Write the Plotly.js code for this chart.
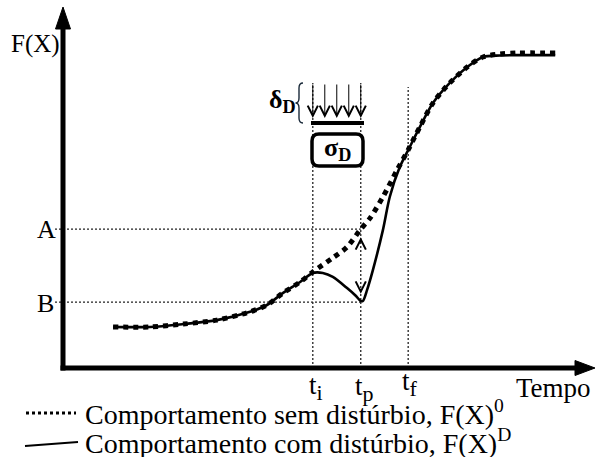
<!DOCTYPE html>
<html>
<head>
<meta charset="utf-8">
<script src="https://cdn.plot.ly/plotly-3.0.1.min.js"></script>
<style>html,body{margin:0;padding:0;background:#fff;}#chart{width:597px;height:457px;}</style>
</head>
<body>
<div id="chart"></div>
<script>
// ---- data (time 0..100, F(X) 0..100) ----
const timeF0 = [9.5, 16.5, 22.8, 29.2, 35.5, 38.7, 41.7, 45.0, 47.4, 51.2, 53.9, 56.5, 58.3, 60.7, 63.4, 65.5, 67.7, 70.2, 73.4, 76.7, 79.7, 82.9, 86.1, 93.4];
const F0     = [11.4, 11.4, 12.2, 13.3, 15.6, 17.5, 20.8, 23.9, 26.7, 30.6, 33.6, 38.6, 41.7, 47.5, 55.0, 60.6, 66.9, 73.6, 79.2, 83.6, 86.4, 87.2, 87.5, 87.5];
const timeFD = [9.5, 16.5, 22.8, 29.2, 35.5, 38.7, 41.7, 45.0, 47.4, 49.3, 51.2, 53.9, 55.6, 56.5, 56.9, 57.7, 58.8, 60.7, 62.0, 63.9, 65.8, 67.7, 70.2, 73.4, 76.7, 79.7, 82.9, 86.1, 93.4];
const FD     = [11.4, 11.4, 12.2, 13.3, 15.6, 17.5, 20.8, 23.9, 26.4, 26.4, 25.3, 22.2, 20.0, 18.6, 18.6, 21.7, 27.2, 38.3, 47.5, 55.8, 61.4, 66.9, 73.6, 79.2, 83.6, 86.4, 86.8, 86.9, 86.9];
const timeMarks = {ti: 47.4, tp: 56.5, tf: 65.5};
const tickNames = ['t<sub><span style="font-size:22px">i</span></sub>', 't<sub><span style="font-size:22px">p</span></sub>', 't<sub><span style="font-size:22px">f</span></sub>'];
const levelA = 38.6;
const levelB = 18.3;
const levelNames = ['A', 'B'];
const yLabel = 'F(X)';
const xLabel = 'Tempo';
const legendTexts = ['Comportamento sem distúrbio, F(X)<sup>0</sup>', 'Comportamento com distúrbio, F(X)<sup>D</sup>'];

// ---- layout helpers (pixel -> paper) ----
const W = 597, H = 457, L = 63, R = 590, T = 8, B = 368;
const px = v => (v - L) / (R - L);
const py = v => (B - v) / (B - T);
const dy = v => (B - v) / (B - T) * 100;   // pixel row -> y data
const P = (x, y) => px(x) + ',' + py(y);
const FONT = 'Liberation Serif';

const traces = [
  {x: timeFD, y: FD, mode: 'lines', line: {color: '#000', width: 2.6, shape: 'spline', smoothing: 0.8}, hoverinfo: 'skip'},
  {x: timeF0, y: F0, mode: 'lines', line: {color: '#000', width: 5, dash: '5px,5px', shape: 'spline', smoothing: 0.8}, hoverinfo: 'skip'}
];

const guide = {color: '#222', width: 1.3, dash: '2px,2px'};
const shapes = [
  // guide lines
  {type: 'line', xref: 'x', yref: 'y', x0: timeMarks.ti, x1: timeMarks.ti, y0: 0, y1: dy(83), line: guide, layer: 'below'},
  {type: 'line', xref: 'x', yref: 'y', x0: timeMarks.tp, x1: timeMarks.tp, y0: 0, y1: dy(83), line: guide, layer: 'below'},
  {type: 'line', xref: 'x', yref: 'y', x0: timeMarks.tf, x1: timeMarks.tf, y0: 0, y1: dy(87), line: guide, layer: 'below'},
  {type: 'line', xref: 'paper', yref: 'y', x0: px(55), x1: timeMarks.tp / 100, y0: levelA, y1: levelA, line: guide, layer: 'below'},
  {type: 'line', xref: 'paper', yref: 'y', x0: px(55), x1: timeMarks.tp / 100, y0: levelB, y1: levelB, line: guide, layer: 'below'},
  // axes
  {type: 'line', xref: 'paper', yref: 'paper', x0: px(63), x1: px(63), y0: py(370.5), y1: py(26), line: {color: '#000', width: 5}},
  {type: 'path', xref: 'paper', yref: 'paper', path: 'M' + P(55.5, 29) + 'L' + P(70.5, 29) + 'L' + P(63, 7) + 'Z', fillcolor: '#000', line: {color: '#000', width: 1}},
  {type: 'line', xref: 'paper', yref: 'paper', x0: px(60.5), x1: px(578), y0: py(368), y1: py(368), line: {color: '#000', width: 5}},
  {type: 'path', xref: 'paper', yref: 'paper', path: 'M' + P(575, 360.5) + 'L' + P(575, 375.5) + 'L' + P(595, 368) + 'Z', fillcolor: '#000', line: {color: '#000', width: 1}},
  // disturbance bar
  {type: 'line', xref: 'paper', yref: 'paper', x0: px(311), x1: px(364), y0: py(123), y1: py(123), line: {color: '#000', width: 4}},
  // sigma box (rounded)
  {type: 'path', xref: 'paper', yref: 'paper',
    path: 'M' + P(319, 134) + 'L' + P(356, 134) + 'Q' + P(363, 134) + ' ' + P(363, 141) + 'L' + P(363, 159) + 'Q' + P(363, 166) + ' ' + P(356, 166) +
          'L' + P(319, 166) + 'Q' + P(312, 166) + ' ' + P(312, 159) + 'L' + P(312, 141) + 'Q' + P(312, 134) + ' ' + P(319, 134) + 'Z',
    fillcolor: '#fff', line: {color: '#000', width: 3.5}},
  // brace
  {type: 'path', xref: 'paper', yref: 'paper',
    path: 'M' + P(303, 83) + 'Q' + P(299, 83) + ' ' + P(299, 88) + 'L' + P(299, 98) + 'Q' + P(299, 103) + ' ' + P(295.5, 103) +
          'Q' + P(299, 103) + ' ' + P(299, 108) + 'L' + P(299, 118) + 'Q' + P(299, 123) + ' ' + P(303, 123),
    line: {color: '#1a2a3a', width: 1.4}},
  // legend samples
  {type: 'line', xref: 'paper', yref: 'paper', x0: px(26), x1: px(76), y0: py(413), y1: py(413), line: {color: '#000', width: 3, dash: '3px,3px'}},
  {type: 'line', xref: 'paper', yref: 'paper', x0: px(25), x1: px(78), y0: py(446), y1: py(442), line: {color: '#000', width: 2}}
];

const txt = (text, x, y, size, opts) => Object.assign({text: text, xref: 'paper', yref: 'paper', x: px(x), y: py(y), showarrow: false,
  xanchor: 'center', yanchor: 'middle', font: {family: FONT, size: size, color: '#000'}}, opts || {});

const annotations = [
  txt(yLabel, 35, 44, 25),
  txt(levelNames[0], 46, 229, 26),
  txt(levelNames[1], 45, 303, 26),
  txt(xLabel, 553, 388, 27),
  txt(tickNames[0], 0, 387, 27, {xref: 'x', x: timeMarks.ti, xshift: 3}),
  txt(tickNames[1], 0, 388, 27, {xref: 'x', x: timeMarks.tp, xshift: 4}),
  txt(tickNames[2], 0, 383, 27, {xref: 'x', x: timeMarks.tf, xshift: 2}),
  txt('<b>δ<sub>D</sub></b>', 282, 101, 26),
  txt('<b>σ<sub>D</sub></b>', 337, 149, 26),
  txt(legendTexts[0], 83, 412, 28, {xanchor: 'left'}),
  txt(legendTexts[1], 83, 441, 28, {xanchor: 'left'})
];

// five disturbance arrows between ti and tp
for (let k = 0; k < 5; k++) {
  const xv = timeMarks.ti + k * (timeMarks.tp - timeMarks.ti) / 4;
  annotations.push({text: '', xref: 'x', yref: 'y', axref: 'x', ayref: 'y', x: xv, y: dy(118), ax: xv, ay: dy(83),
    showarrow: true, arrowhead: 5, arrowsize: 2, arrowwidth: 1, arrowcolor: '#000'});
}
// small arrowheads on tp between B and A
annotations.push({text: '', xref: 'x', yref: 'y', x: timeMarks.tp, y: levelA - 2.3, ax: 0, ay: 6, showarrow: true, arrowhead: 5, arrowsize: 2, arrowwidth: 1, arrowcolor: '#000'});
annotations.push({text: '', xref: 'x', yref: 'y', x: timeMarks.tp, y: levelB + 2.3, ax: 0, ay: -6, showarrow: true, arrowhead: 5, arrowsize: 2, arrowwidth: 1, arrowcolor: '#000'});

const layout = {
  width: W, height: H,
  margin: {l: L, r: W - R, t: T, b: H - B},
  paper_bgcolor: '#fff', plot_bgcolor: '#fff',
  showlegend: false,
  xaxis: {range: [0, 100], visible: false, fixedrange: true},
  yaxis: {range: [0, 100], visible: false, fixedrange: true},
  shapes: shapes,
  annotations: annotations
};

Plotly.newPlot('chart', traces, layout, {displayModeBar: false, staticPlot: true});
</script>
</body>
</html>
